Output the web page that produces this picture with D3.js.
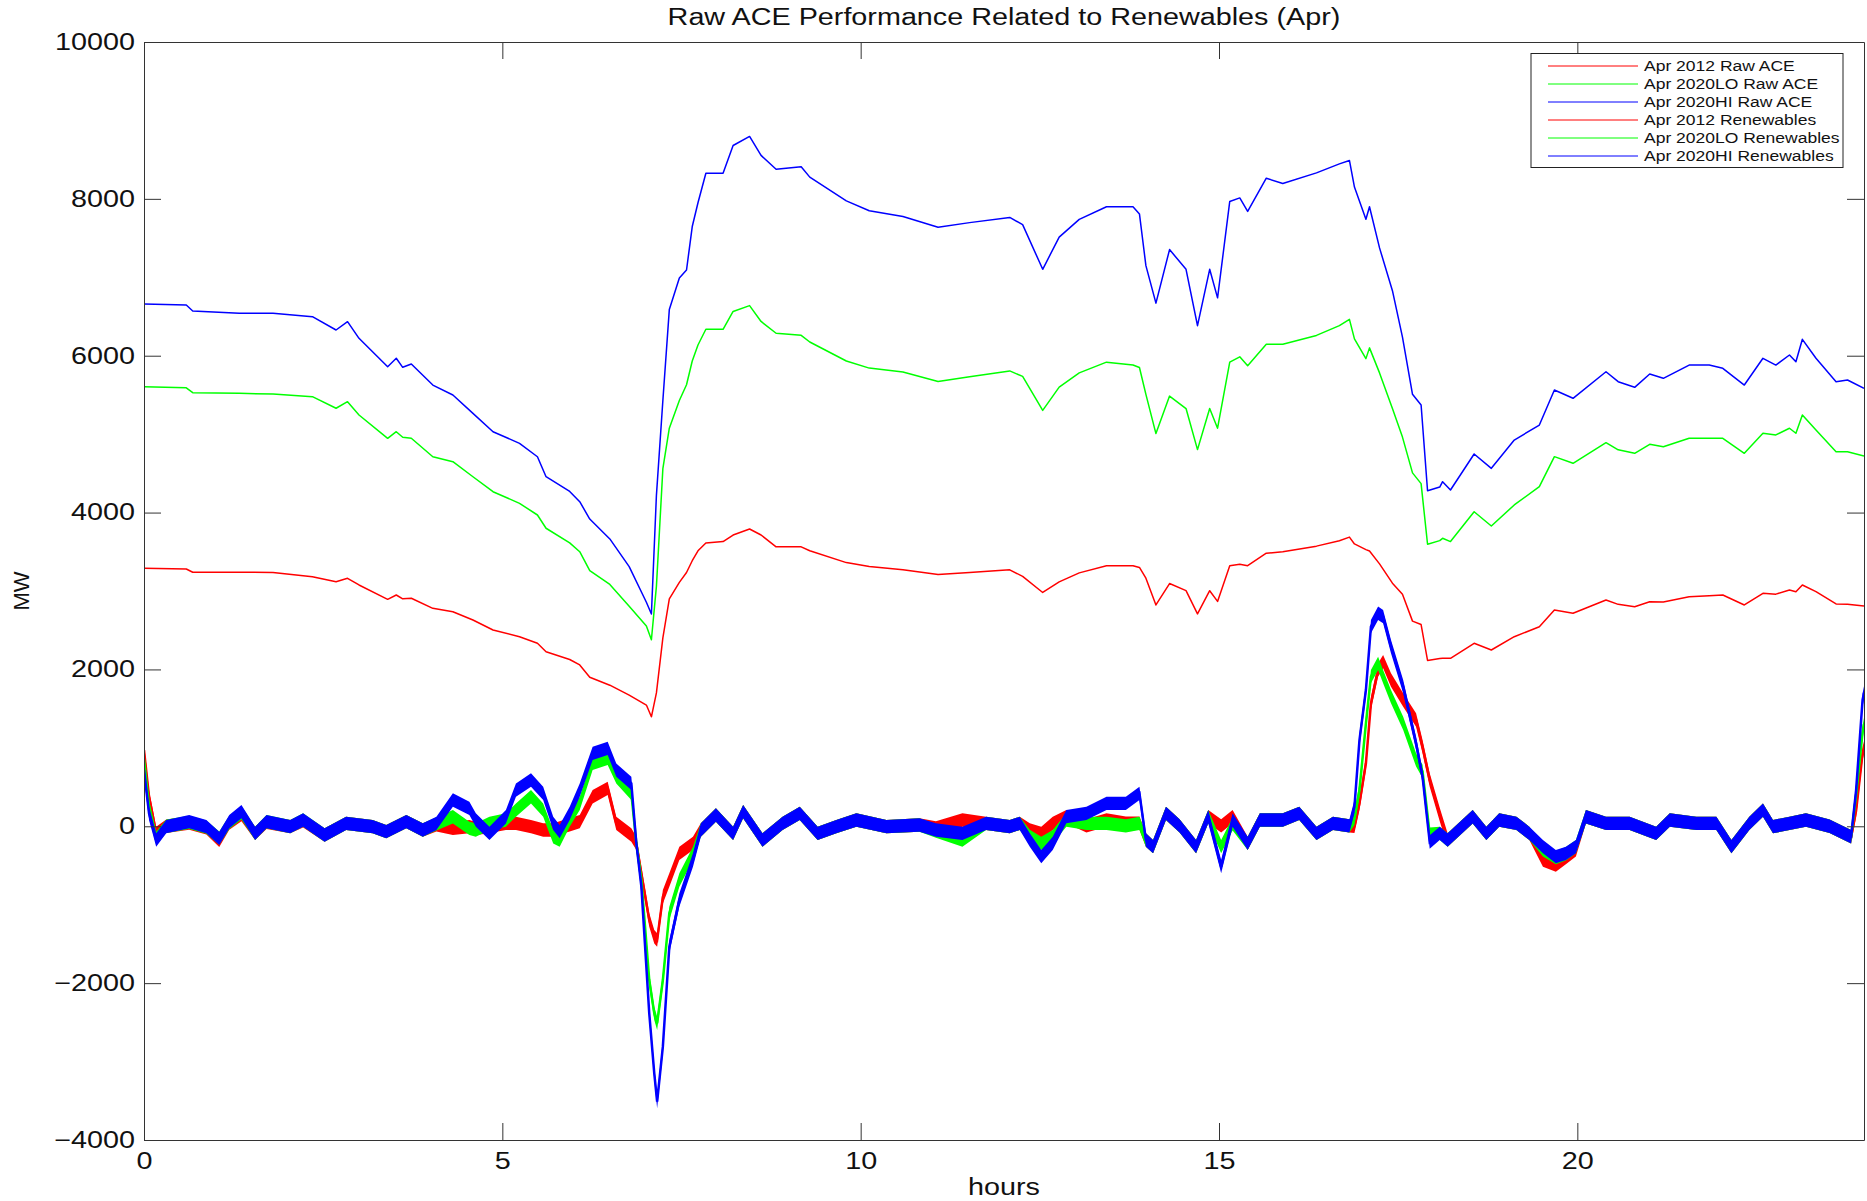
<!DOCTYPE html>
<html>

<head>
  <title>Raw ACE Performance Related to Renewables (Apr)</title>
  <meta charset="utf-8" />
  <style>
    body {
      margin: 0;
      background-color: #ffffff;
    }

    text {
      font-family: 'Liberation Sans', Arial, sans-serif;
      fill: #111;
    }
  </style>
  <script type="text/javascript" src="https://cdnjs.cloudflare.com/ajax/libs/d3/7.8.5/d3.min.js"></script>
</head>

<body>
  <div id="chart"></div>
  <script type="text/javascript">
    // renewables (MW)
    var renHours = [0, 0.59, 0.68, 1.33, 1.80, 2.35, 2.68, 2.84, 3.00, 3.40,
      3.52, 3.61, 3.73, 4.03, 4.31, 4.59, 4.87, 5.24, 5.49, 5.61,
      5.94, 6.08, 6.22, 6.50, 6.77, 7.01, 7.08, 7.15, 7.24, 7.33,
      7.47, 7.57, 7.65, 7.73, 7.84, 8.08, 8.22, 8.45, 8.61, 8.82,
      9.17, 9.29, 9.80, 10.12, 10.59, 11.08, 11.52, 12.08, 12.26, 12.54,
      12.77, 13.05, 13.43, 13.80, 13.89, 13.98, 14.12, 14.31, 14.54, 14.70,
      14.87, 14.98, 15.15, 15.29, 15.40, 15.66, 15.89, 16.36, 16.68, 16.82,
      16.89, 17.05, 17.10, 17.24, 17.42, 17.56, 17.70, 17.82, 17.91, 18.08,
      18.12, 18.23, 18.56, 18.80, 19.12, 19.47, 19.68, 19.94, 20.40, 20.57,
      20.80, 21.01, 21.20, 21.56, 21.84, 22.03, 22.33, 22.59, 22.77, 22.96,
      23.05, 23.14, 23.33, 23.61, 23.77, 24.00];

    var ren2012 = [3290, 3280, 3239, 3240, 3235, 3183, 3119, 3162, 3077, 2894,
      2949, 2900, 2907, 2779, 2736, 2630, 2503, 2417, 2333, 2226,
      2127, 2057, 1900, 1799, 1673, 1546, 1396, 1700, 2403, 2900,
      3110, 3236, 3386, 3513, 3613, 3630, 3714, 3791, 3714, 3563,
      3563, 3513, 3362, 3311, 3270, 3210, 3236, 3270, 3186, 2981,
      3117, 3231, 3323, 3323, 3300, 3163, 2822, 3095, 3004, 2708,
      3004, 2867, 3323, 3340, 3323, 3482, 3500, 3572, 3640, 3687,
      3600, 3528, 3510, 3346, 3100, 2958, 2616, 2572, 2115, 2138,
      2142, 2142, 2333, 2248, 2417, 2545, 2758, 2716, 2885, 2830,
      2800, 2864, 2860, 2928, 2940, 2949, 2822, 2971, 2960, 3013,
      2990, 3077, 2992, 2835, 2830, 2809];

    var ren2020LO = [5605, 5590, 5529, 5520, 5512, 5478, 5330, 5414, 5244, 4947,
      5031, 4960, 4947, 4712, 4649, 4457, 4266, 4118, 3969, 3800,
      3613, 3501, 3261, 3084, 2807, 2555, 2379, 3059, 4560, 5076,
      5429, 5630, 5933, 6137, 6337, 6337, 6564, 6639, 6437, 6286,
      6260, 6175, 5933, 5842, 5792, 5671, 5731, 5806, 5736, 5303,
      5600, 5781, 5918, 5882, 5850, 5508, 5007, 5485, 5326, 4803,
      5326, 5076, 5918, 5986, 5873, 6146, 6146, 6259, 6383, 6464,
      6214, 5963, 6100, 5781, 5326, 4962, 4506, 4369, 3596, 3642,
      3672, 3630, 4011, 3829, 4097, 4330, 4713, 4628, 4891, 4800,
      4756, 4870, 4840, 4947, 4947, 4947, 4756, 5011, 4990, 5075,
      5011, 5244, 5053, 4776, 4776, 4721];

    var ren2020HI = [6659, 6646, 6570, 6540, 6540, 6498, 6328, 6434, 6222, 5860,
      5967, 5852, 5894, 5626, 5499, 5265, 5031, 4883, 4712, 4457,
      4269, 4139, 3917, 3664, 3311, 2857, 2707, 4219, 5429, 6588,
      6992, 7093, 7647, 7950, 8327, 8327, 8680, 8796, 8554, 8378,
      8410, 8277, 7975, 7849, 7774, 7637, 7697, 7763, 7672, 7102,
      7512, 7739, 7899, 7899, 7808, 7148, 6670, 7353, 7102, 6383,
      7102, 6738, 7967, 8012, 7840, 8263, 8195, 8331, 8446, 8490,
      8150, 7739, 7899, 7375, 6829, 6237, 5508, 5371, 4279, 4325,
      4394, 4288, 4747, 4564, 4925, 5116, 5563, 5457, 5796, 5669,
      5597, 5767, 5712, 5881, 5881, 5839, 5626, 5967, 5881, 6009,
      5924, 6209, 5967, 5669, 5690, 5584];

    // raw ACE (MW, middle of the noisy band)
    var aceHours = [0, 0.07, 0.17, 0.31, 0.63, 0.87, 1.05, 1.19, 1.36, 1.55,
      1.71, 2.04, 2.22, 2.52, 2.82, 3.19, 3.38, 3.66, 3.89, 4.08,
      4.31, 4.54, 4.63, 4.82, 5.05, 5.19, 5.40, 5.57, 5.71, 5.80,
      5.94, 6.08, 6.26, 6.47, 6.59, 6.80, 6.87, 6.94, 7.05, 7.12,
      7.16, 7.24, 7.33, 7.47, 7.66, 7.77, 7.98, 8.22, 8.36, 8.63,
      8.91, 9.15, 9.40, 9.66, 9.94, 10.36, 10.82, 11.05, 11.42, 11.75,
      12.08, 12.22, 12.36, 12.52, 12.68, 12.87, 13.15, 13.43, 13.70, 13.89,
      13.98, 14.08, 14.26, 14.45, 14.68, 14.85, 15.03, 15.19, 15.40, 15.57,
      15.89, 16.12, 16.36, 16.59, 16.82, 16.89, 16.96, 17.05, 17.12, 17.22,
      17.29, 17.40, 17.57, 17.75, 17.84, 17.94, 18.08, 18.19, 18.54, 18.73,
      18.91, 19.15, 19.33, 19.52, 19.70, 19.84, 19.98, 20.12, 20.40, 20.73,
      21.10, 21.29, 21.66, 21.94, 22.15, 22.40, 22.59, 22.73, 22.96, 23.19,
      23.52, 23.82, 23.89, 23.98, 24.00];

    var ace2012 = [972, 377, -90, 0, 40, -20, -180, 40, 150, -90,
      50, -5, 70, -111, 37, -5, -69, 59, -47, 20,
      -26, -5, -30, 0, 37, 37, -5, -47, -47, -20,
      20, 60, 377, 484, 37, -111, -218, -600, -1195, -1408,
      -1450, -898, -685, -345, -218, -47, 144, -90, 186, -175,
      37, 165, -90, -5, 80, -5, 16, -20, 80, 37,
      -5, 38, -47, -90, 38, 123, 5, 80, 40, 40,
      -175, -260, 165, 5, -260, 123, 5, 123, -217, 80,
      80, 165, -90, 38, 5, 0, 293, 803, 1568, 1993,
      2100, 1865, 1610, 1355, 1015, 590, 150, -175, 122, -90,
      80, 37, -90, -430, -494, -400, -300, 122, 37, 37,
      -90, 80, 37, 37, -260, 37, 207, -5, 37, 80,
      0, -133, 200, 930, 1000];

    var ace2020LO = [850, 250, -150, 0, 50, -10, -150, 50, 170, -90,
      59, -5, 80, -111, 37, -5, -69, 59, -47, 30,
      122, -26, -47, 37, 80, 207, 377, 207, -133, -175,
      80, 292, 802, 866, 632, 420, -218, -685, -1960, -2385,
      -2512, -1960, -1110, -685, -345, -47, 144, -90, 186, -175,
      37, 165, -90, -5, 80, -5, 16, -60, -175, 37,
      -5, 38, -130, -217, -132, 80, 38, 38, 5, 38,
      -175, -260, 165, 5, -260, 123, -260, 30, -217, 80,
      80, 165, -90, 38, 5, 100, 463, 1313, 1908, 2078,
      1908, 1653, 1313, 846, 700, -100, -90, -175, 122, -90,
      80, 37, -90, -300, -400, -350, -260, 122, 37, 37,
      -90, 80, 37, 37, -260, 37, 207, -5, 37, 80,
      0, -133, 400, 1200, 1300];

    var ace2020HI = [717, 165, -175, -5, 59, -5, -154, 59, 186, -90,
      59, -5, 80, -111, 37, -5, -69, 59, -47, 37,
      335, 229, 80, -90, 122, 462, 590, 420, 37, -69,
      165, 462, 930, 994, 717, 547, -218, -770, -2385, -3150,
      -3511, -2810, -1535, -940, -430, -47, 144, -90, 186, -175,
      37, 165, -90, -5, 80, -5, 16, -47, -90, 37,
      -5, 38, -175, -387, -217, 123, 165, 293, 293, 420,
      -175, -260, 165, 5, -260, 123, -515, 80, -217, 80,
      80, 165, -90, 38, 5, 250, 1100, 1738, 2545, 2716,
      2673, 2290, 1780, 1058, 633, -200, -90, -175, 122, -90,
      80, 37, -90, -260, -387, -345, -260, 122, 37, 37,
      -90, 80, 37, 37, -260, 37, 207, -5, 37, 80,
      0, -133, 462, 1610, 1700];

    var xTicks = [0, 5, 10, 15, 20];
    var yTicks = [-4000, -2000, 0, 2000, 4000, 6000, 8000, 10000];

    var legendLabels = ["Apr 2012 Raw ACE", "Apr 2020LO Raw ACE", "Apr 2020HI Raw ACE",
      "Apr 2012 Renewables", "Apr 2020LO Renewables", "Apr 2020HI Renewables"];

    var red = "#ff0000", green = "#00ff00", blue = "#0000ff";

    // the ACE traces are very noisy; they are drawn as a band this many MW
    // either side of the value read off, which is how the trace looks
    var aceBand = 85;

    var aceSeries = [
      { hours: aceHours, vals: ace2012, color: red },
      { hours: aceHours, vals: ace2020LO, color: green },
      { hours: aceHours, vals: ace2020HI, color: blue }
    ];
    var renSeries = [
      { hours: renHours, vals: ren2012, color: red },
      { hours: renHours, vals: ren2020LO, color: green },
      { hours: renHours, vals: ren2020HI, color: blue }
    ];
    var legendColors = [red, green, blue, red, green, blue];

    var w = 1867, h = 1201;
    // note: "top" is taken by window.top, so the plot edges get their own names
    var plotLeft = 144, plotRight = 1864, plotTop = 42, plotBottom = 1140;
    var tick = 17;
    var stretchK = 1.25;

    var scaleX = d3.scaleLinear().domain([0, 24]).range([plotLeft, plotRight]);
    var scaleY = d3.scaleLinear().domain([-4000, 10000]).range([plotBottom, plotTop]);

    var svg = d3.select("#chart")
      .append("svg")
      .attr("width", w)
      .attr("height", h);

    // the source picture is a little wide, so text is stretched to match
    function stretch(sel, k) {
      sel.each(function () {
        var len = this.getComputedTextLength();
        d3.select(this)
          .attr("textLength", len * k)
          .attr("lengthAdjust", "spacingAndGlyphs");
      });
    }

    function points(s) {
      return s.hours.map(function (hr, i) { return [hr, s.vals[i]]; });
    }

    svg.append("defs").append("clipPath")
      .attr("id", "clip")
      .append("rect")
      .attr("x", plotLeft)
      .attr("y", plotTop)
      .attr("width", plotRight - plotLeft)
      .attr("height", plotBottom - plotTop);

    var line = d3.line()
      .x(function (d) { return scaleX(d[0]); })
      .y(function (d) { return scaleY(d[1]); });

    var band = d3.area()
      .x(function (d) { return scaleX(d[0]); })
      .y0(function (d) { return scaleY(d[1] - aceBand); })
      .y1(function (d) { return scaleY(d[1] + aceBand); });

    var plot = svg.append("g").attr("clip-path", "url(#clip)");

    // ACE first (red, green, blue), renewables drawn on top, as in the legend
    var ace = plot.selectAll("g.ace")
      .data(aceSeries)
      .enter()
      .append("g")
      .attr("class", "ace");

    ace.append("path")
      .attr("d", function (s) { return band(points(s)); })
      .attr("fill", function (s) { return s.color; })
      .attr("stroke", "none");

    ace.append("path")
      .attr("d", function (s) { return line(points(s)); })
      .attr("fill", "none")
      .attr("stroke", function (s) { return s.color; })
      .attr("stroke-width", 2.5);

    plot.selectAll("path.ren")
      .data(renSeries)
      .enter()
      .append("path")
      .attr("class", "ren")
      .attr("d", function (s) { return line(points(s)); })
      .attr("fill", "none")
      .attr("stroke", function (s) { return s.color; })
      .attr("stroke-width", 1.5)
      .attr("stroke-linejoin", "round");

    // box with inward ticks on all four sides
    var xAxis = svg.append("g")
      .attr("transform", "translate(0," + plotBottom + ")")
      .call(d3.axisBottom(scaleX).tickValues(xTicks).tickSize(-tick).tickSizeOuter(0).tickPadding(13));
    svg.append("g")
      .attr("transform", "translate(0," + plotTop + ")")
      .call(d3.axisTop(scaleX).tickValues(xTicks).tickSize(-tick).tickSizeOuter(0).tickFormat(""));
    var yAxis = svg.append("g")
      .attr("transform", "translate(" + plotLeft + ",0)")
      .call(d3.axisLeft(scaleY).tickValues(yTicks).tickSize(-tick).tickSizeOuter(0).tickPadding(9)
        .tickFormat(d3.format("d")));
    svg.append("g")
      .attr("transform", "translate(" + plotRight + ",0)")
      .call(d3.axisRight(scaleY).tickValues(yTicks).tickSize(-tick).tickSizeOuter(0).tickFormat(""));

    svg.selectAll(".domain").attr("stroke", "#333");
    svg.selectAll(".tick line").attr("stroke", "#333");
    svg.selectAll(".tick text")
      .attr("font-family", "'Liberation Sans', Arial, sans-serif")
      .attr("font-size", "23px")
      .attr("fill", "#111");
    stretch(xAxis.selectAll(".tick text"), stretchK);
    stretch(yAxis.selectAll(".tick text"), stretchK);

    var title = svg.append("text")
      .attr("x", (plotLeft + plotRight) / 2)
      .attr("y", 25)
      .attr("text-anchor", "middle")
      .attr("font-size", "23px")
      .text("Raw ACE Performance Related to Renewables (Apr)");
    stretch(title, stretchK);

    var xLabel = svg.append("text")
      .attr("x", (plotLeft + plotRight) / 2)
      .attr("y", 1195)
      .attr("text-anchor", "middle")
      .attr("font-size", "23px")
      .text("hours");
    stretch(xLabel, stretchK);

    svg.append("text")
      .attr("transform", "translate(21," + (plotTop + plotBottom) / 2 + ") rotate(-90)")
      .attr("text-anchor", "middle")
      .attr("dominant-baseline", "central")
      .attr("font-size", "22px")
      .text("MW");

    // legend
    var legend = svg.append("g");
    legend.append("rect")
      .attr("x", 1531)
      .attr("y", 53.5)
      .attr("width", 312)
      .attr("height", 114)
      .attr("fill", "#ffffff")
      .attr("stroke", "#222");

    var rows = legend.selectAll("g.row")
      .data(legendLabels)
      .enter()
      .append("g")
      .attr("class", "row")
      .attr("transform", function (d, i) { return "translate(0," + (66 + 18 * i) + ")"; });

    rows.append("line")
      .attr("x1", 1548)
      .attr("x2", 1638)
      .attr("stroke", function (d, i) { return legendColors[i]; })
      .attr("stroke-width", 1);

    var legendText = rows.append("text")
      .attr("x", 1644)
      .attr("y", 5)
      .attr("font-size", "14px")
      .attr("fill", "#222")
      .text(function (d) { return d; });
    stretch(legendText, stretchK);
  </script>
</body>

</html>
